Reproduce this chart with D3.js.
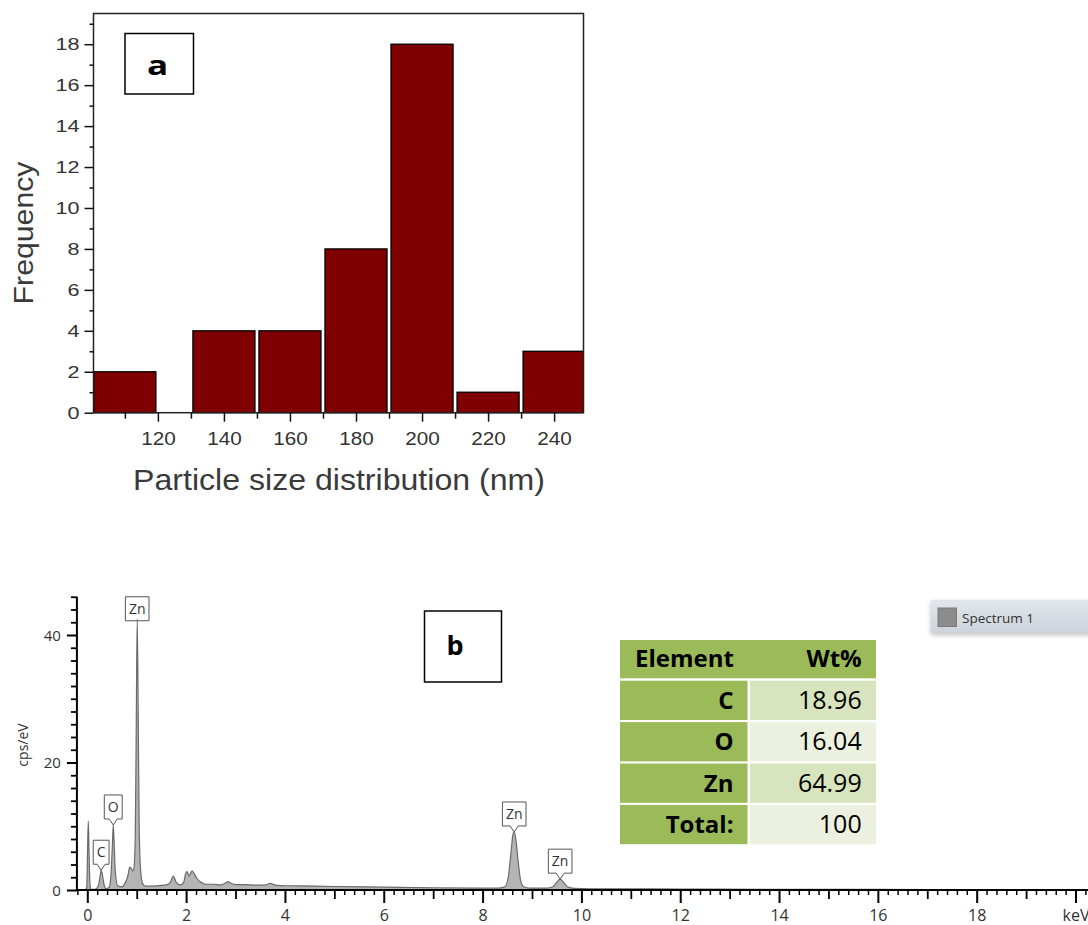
<!DOCTYPE html>
<html>
<head>
<meta charset="utf-8">
<script src="https://cdn.jsdelivr.net/npm/d3@7"></script>
<style>
  html, body { margin: 0; padding: 0; background: #fff; }
  svg { display: block; }
</style>
</head>
<body>
<svg id="chart" width="1088" height="925"></svg>
<script>
// ---------- (a) particle size histogram ----------
const sizeBinLow  = [100, 130, 150, 170, 190, 210, 230];
const sizeBinHigh = [120, 150, 170, 190, 210, 230, 250];
const frequency   = [2, 4, 4, 8, 18, 1, 3];
const sizeTicks   = [120, 140, 160, 180, 200, 220, 240];
const sizeMinorTicks = [110, 130, 150, 170, 190, 210, 230];
const freqTicks   = [0, 2, 4, 6, 8, 10, 12, 14, 16, 18];
const freqMinorTicks = [1, 3, 5, 7, 9, 11, 13, 15, 17, 19];

// ---------- (b) EDX spectrum ----------
const energyKeV = [
  -0.04, -0.01, 0.005, 0.02, 0.035, 0.055, 0.08, 0.15, 0.22, 0.26, 0.28, 0.30, 0.34, 0.38,
  0.44, 0.48, 0.51, 0.525, 0.54, 0.57, 0.62, 0.70, 0.76, 0.82, 0.86, 0.89, 0.92, 0.94,
  0.97, 0.99, 1.01, 1.03, 1.05, 1.08, 1.12, 1.18, 1.30, 1.45, 1.60, 1.68, 1.74, 1.80,
  1.88, 1.95, 1.99, 2.02, 2.06, 2.09, 2.12, 2.16, 2.22, 2.30, 2.40, 2.55, 2.70, 2.80,
  2.85, 2.90, 3.00, 3.20, 3.40, 3.60, 3.66, 3.71, 3.77, 3.90, 4.30, 5.00, 6.00, 7.00,
  8.00, 8.30, 8.45, 8.52, 8.57, 8.62, 8.64, 8.67, 8.72, 8.77, 8.83, 8.95, 9.30, 9.42,
  9.50, 9.57, 9.64, 9.72, 9.85, 10.2, 12.0, 14.0, 16.0, 18.0, 20.3
];
const countsCpsEv = [
  0, 0.5, 6, 10.8, 6, 0.8, 0.1, 0.1, 0.6, 2.2, 3.1, 2.6, 0.8, 0.2,
  0.4, 2.5, 7.5, 10.2, 8, 2.5, 0.6, 0.5, 1.0, 2.2, 3.6, 3.4, 3.0, 3.2,
  8, 25, 42.5, 28, 10, 3, 1.0, 0.6, 0.6, 0.7, 0.8, 1.2, 2.2, 1.2,
  0.8, 1.2, 2.6, 2.9, 2.2, 2.6, 3.0, 2.6, 1.8, 1.2, 0.9, 0.9, 0.8, 1.1,
  1.3, 1.1, 0.85, 0.85, 0.75, 0.75, 0.95, 1.05, 0.85, 0.7, 0.65, 0.55, 0.45, 0.35,
  0.3, 0.3, 0.5, 2.0, 5.5, 8.9, 9.1, 8.2, 4.5, 1.5, 0.5, 0.3, 0.3, 0.5,
  1.2, 1.7, 1.2, 0.5, 0.25, 0.2, 0.15, 0.1, 0.1, 0.05, 0.05
];
const energyTicks = [0, 2, 4, 6, 8, 10, 12, 14, 16, 18, 20];
const countTicks  = [0, 20, 40];
const peakElements = ["C", "O", "Zn", "Zn", "Zn"];
const peakEnergies = [0.28, 0.525, 1.01, 8.64, 9.57];

// ---------- composition table ----------
const tableElements = ["C", "O", "Zn", "Total:"];
const tableWt = [18.96, 16.04, 64.99, 100];

const svg = d3.select("#chart");
const defs = svg.append("defs");

// scale text along its baseline around its anchor
function stretchText(sel, s) {
  sel.each(function () {
    const t = d3.select(this);
    const x = +t.attr("x") || 0;
    t.attr("x", x / s).attr("transform", `scale(${s},1)`);
  });
}

// =================== histogram ===================
const H = { left: 93.5, right: 583.5, top: 13.5, bottom: 412.7 };
const xH = d3.scaleLinear().domain([100.5, 248.9]).range([H.left, H.right]);
const yH = d3.scaleLinear().domain([0, 19.5]).range([H.bottom, H.top]);
const histFont = "'Liberation Sans', Arial, sans-serif";

defs.append("clipPath").attr("id", "histClip")
  .append("rect").attr("x", H.left).attr("y", H.top - 2)
  .attr("width", H.right - H.left).attr("height", H.bottom - H.top + 4);

const bins = frequency.map((f, i) => ({ lo: sizeBinLow[i], hi: sizeBinHigh[i], f }));

svg.append("g").attr("clip-path", "url(#histClip)")
  .selectAll("rect").data(bins).join("rect")
  .attr("x", d => xH(d.lo) + 2)
  .attr("width", d => xH(d.hi) - xH(d.lo) - 4)
  .attr("y", d => yH(d.f))
  .attr("height", d => yH(0) - yH(d.f))
  .attr("fill", "#7f0000")
  .attr("stroke", "#000")
  .attr("stroke-width", 1.3);

svg.append("rect")
  .attr("x", H.left).attr("y", H.top)
  .attr("width", H.right - H.left).attr("height", H.bottom - H.top)
  .attr("fill", "none").attr("stroke", "#222").attr("stroke-width", 1.5);

function styleHistAxis(g) {
  g.select(".domain").remove();
  g.selectAll(".tick line").attr("stroke", "#111").attr("stroke-width", 1.5);
  g.selectAll(".tick text").attr("fill", "#333").attr("font-family", histFont);
}

const yAxisH = svg.append("g").attr("transform", `translate(${H.left},0)`)
  .call(d3.axisLeft(yH).tickValues(freqTicks).tickSize(9).tickFormat(d3.format("d")));
styleHistAxis(yAxisH);
yAxisH.selectAll(".tick text").attr("x", -14).attr("dy", "0.34em").attr("font-size", 16);
stretchText(yAxisH.selectAll(".tick text"), 1.35);

const yMinorH = svg.append("g").attr("transform", `translate(${H.left},0)`)
  .call(d3.axisLeft(yH).tickValues(freqMinorTicks).tickSize(4).tickFormat(""));
styleHistAxis(yMinorH);

const xAxisH = svg.append("g").attr("transform", `translate(0,${H.bottom})`)
  .call(d3.axisBottom(xH).tickValues(sizeTicks).tickSize(9).tickFormat(d3.format("d")));
styleHistAxis(xAxisH);
xAxisH.selectAll(".tick text").attr("y", 32.3).attr("dy", "0").attr("font-size", 18);
stretchText(xAxisH.selectAll(".tick text"), 1.15);

const xMinorH = svg.append("g").attr("transform", `translate(0,${H.bottom})`)
  .call(d3.axisBottom(xH).tickValues(sizeMinorTicks).tickSize(6).tickFormat(""));
styleHistAxis(xMinorH);

svg.append("g").attr("transform", "translate(33,233) rotate(-90) scale(1.12,1)")
  .append("text").attr("text-anchor", "middle")
  .attr("font-family", histFont).attr("font-size", 27).attr("fill", "#3a3a3a")
  .text("Frequency");

svg.append("g").attr("transform", "translate(339,490) scale(1.07,1)")
  .append("text").attr("text-anchor", "middle")
  .attr("font-family", histFont).attr("font-size", 30).attr("fill", "#3a3a3a")
  .text("Particle size distribution (nm)");

// panel tag (a)
svg.append("rect").attr("x", 125).attr("y", 33.5).attr("width", 68.5).attr("height", 60.5)
  .attr("fill", "#fff").attr("stroke", "#000").attr("stroke-width", 1.5);
svg.append("g").attr("transform", "translate(157.5,75) scale(1.3,1)")
  .append("text").attr("text-anchor", "middle")
  .attr("font-family", "'Open Sans', sans-serif").attr("font-weight", "bold").attr("font-size", 27)
  .attr("fill", "#000").text("a");

// =================== spectrum ===================
const specFont = "'Open Sans', 'Noto Sans', sans-serif";
const xS = d3.scaleLinear().domain([0, 20]).range([87.3, 1075.5]);
const yS = d3.scaleLinear().domain([0, 46]).range([890, 596.75]);
const spectrum = energyKeV.map((e, i) => ({ e, c: countsCpsEv[i] }));

defs.append("clipPath").attr("id", "specClip")
  .append("rect").attr("x", xS(-0.21)).attr("y", yS(46))
  .attr("width", 1088 - xS(-0.21)).attr("height", yS(0) - yS(46));

// peak markers: box with a pointer down to the peak
const labelH = 24, pointerH = 6, notch = 4;
const peaks = peakElements.map((el, i) => {
  const e = peakEnergies[i];
  const near = spectrum.reduce((a, b) => Math.abs(b.e - e) < Math.abs(a.e - e) ? b : a);
  return { el, e, c: near.c };
});
const peakG = svg.append("g");
peaks.forEach(p => {
  const g = peakG.append("g");
  const t = g.append("text").attr("font-family", specFont).attr("font-size", 14)
    .attr("fill", "#333").attr("text-anchor", "middle").text(p.el);
  const w = t.node().getComputedTextLength() + 7;
  const cx = xS(p.e), tip = yS(p.c);
  let bottom = tip - pointerH;
  let top = bottom - labelH;
  const clamped = top < yS(46);
  if (clamped) { top = yS(46); bottom = top + labelH; }
  const l = cx - w / 2, r = cx + w / 2;
  const d = clamped
    ? `M${l},${top}H${r}V${bottom}H${l}Z`
    : `M${l},${top}H${r}V${bottom}H${cx + notch}L${cx},${tip}L${cx - notch},${bottom}H${l}Z`;
  g.insert("path", "text").attr("d", d).attr("fill", "#fff")
    .attr("stroke", "#555").attr("stroke-width", 1);
  t.attr("x", cx).attr("y", top + labelH / 2 + 5);
});

const specG = svg.append("g").attr("clip-path", "url(#specClip)");
specG.append("path").datum(spectrum)
  .attr("d", d3.area().x(d => xS(d.e)).y0(yS(0)).y1(d => yS(d.c)).curve(d3.curveMonotoneX))
  .attr("fill", "#b4b4b4");
specG.append("path").datum(spectrum)
  .attr("d", d3.line().x(d => xS(d.e)).y(d => yS(d.c)).curve(d3.curveMonotoneX))
  .attr("fill", "none").attr("stroke", "#6a6a6a").attr("stroke-width", 1.2);

function styleSpecAxis(g, w) {
  g.select(".domain").remove();
  g.selectAll(".tick line").attr("stroke", "#000").attr("stroke-width", w);
  g.selectAll(".tick text").attr("fill", "#333").attr("font-family", specFont);
}

const minorE = d3.range(-1, 102).map(i => i / 5).filter(v => Math.abs(v - Math.round(v)) > 1e-6);
const oddE = d3.range(1, 20, 2);
const gxMinor = svg.append("g").attr("transform", `translate(0,${yS(0)})`)
  .call(d3.axisBottom(xS).tickValues(minorE).tickSize(5).tickFormat(""));
styleSpecAxis(gxMinor, 1.5);
const gxMid = svg.append("g").attr("transform", `translate(0,${yS(0)})`)
  .call(d3.axisBottom(xS).tickValues(oddE).tickSize(9).tickFormat(""));
styleSpecAxis(gxMid, 1.8);
const gxMajor = svg.append("g").attr("transform", `translate(0,${yS(0)})`)
  .call(d3.axisBottom(xS).tickValues(energyTicks).tickSize(13)
    .tickFormat(d => d === 20 ? "keV" : d));
styleSpecAxis(gxMajor, 2);
gxMajor.selectAll(".tick text").attr("y", 30.5).attr("dy", "0").attr("font-size", 16);

const gyMinor = svg.append("g").attr("transform", `translate(${xS(-0.21)},0)`)
  .call(d3.axisLeft(yS).tickValues(d3.range(0, 47, 2).filter(v => v % 20 !== 0)).tickSize(6).tickFormat(""));
styleSpecAxis(gyMinor, 1.8);
const gyMajor = svg.append("g").attr("transform", `translate(${xS(-0.21)},0)`)
  .call(d3.axisLeft(yS).tickValues(countTicks).tickSize(10));
styleSpecAxis(gyMajor, 2);
gyMajor.selectAll(".tick text").attr("x", -16).attr("dy", "0.36em").attr("font-size", 15);

// axis lines
svg.append("line").attr("x1", xS(-0.21)).attr("x2", 1088).attr("y1", yS(0)).attr("y2", yS(0))
  .attr("stroke", "#000").attr("stroke-width", 2);
svg.append("line").attr("x1", xS(-0.21)).attr("x2", xS(-0.21)).attr("y1", yS(0) + 1).attr("y2", yS(46))
  .attr("stroke", "#000").attr("stroke-width", 2);

svg.append("text").attr("transform", "translate(28,745) rotate(-90)")
  .attr("text-anchor", "middle").attr("font-family", specFont).attr("font-size", 14)
  .attr("fill", "#333").text("cps/eV");

// panel tag (b)
svg.append("rect").attr("x", 424.5).attr("y", 611).attr("width", 77).attr("height", 71)
  .attr("fill", "#fff").attr("stroke", "#000").attr("stroke-width", 1.5);
svg.append("text").attr("x", 455).attr("y", 655).attr("text-anchor", "middle")
  .attr("font-family", "'Open Sans', sans-serif").attr("font-weight", "bold").attr("font-size", 27)
  .attr("fill", "#000").text("b");

// legend
const grad = defs.append("linearGradient").attr("id", "legendGrad")
  .attr("x1", 0).attr("y1", 0).attr("x2", 0).attr("y2", 1);
grad.append("stop").attr("offset", "0%").attr("stop-color", "#e2e6ec");
grad.append("stop").attr("offset", "100%").attr("stop-color", "#cdd3db");
const shadow = defs.append("filter").attr("id", "legendShadow")
  .attr("x", "-10%").attr("y", "-30%").attr("width", "120%").attr("height", "180%");
shadow.append("feDropShadow").attr("dx", 0).attr("dy", 2).attr("stdDeviation", 2.5)
  .attr("flood-color", "#000").attr("flood-opacity", 0.25);
svg.append("rect").attr("x", 931).attr("y", 600).attr("width", 165).attr("height", 33)
  .attr("fill", "url(#legendGrad)").attr("filter", "url(#legendShadow)");
svg.append("rect").attr("x", 938).attr("y", 608).attr("width", 18.5).attr("height", 18.5)
  .attr("fill", "#8c8c8c").attr("stroke", "#7a7a7a").attr("stroke-width", 1);
svg.append("text").attr("x", 962).attr("y", 623).attr("font-family", specFont)
  .attr("font-size", 13.5).attr("fill", "#333").text("Spectrum 1");

// composition table
const T = { x: 620, w: 256, headTop: 640, headH: 38.3, rowTop: 680.7, rowStep: 41.4, rowH: 39.3,
            split: 747.5, valX: 750 };
const tableG = svg.append("g").attr("font-family", specFont).attr("fill", "#000");
tableG.append("rect").attr("x", T.x).attr("y", T.headTop).attr("width", T.w).attr("height", T.headH)
  .attr("fill", "#9bbb59");
tableG.append("text").attr("x", 635).attr("y", 666.7).attr("font-weight", "bold")
  .attr("font-size", 24).text("Element");
tableG.append("text").attr("x", 861.7).attr("y", 666.7).attr("text-anchor", "end")
  .attr("font-weight", "bold").attr("font-size", 24).text("Wt%");
const valueFill = ["#d7e4bd", "#ebf1de", "#d7e4bd", "#ebf1de"];
tableElements.forEach((el, i) => {
  const y0 = T.rowTop + i * T.rowStep;
  tableG.append("rect").attr("x", T.x).attr("y", y0).attr("width", T.split - T.x).attr("height", T.rowH)
    .attr("fill", "#9bbb59");
  tableG.append("rect").attr("x", T.valX).attr("y", y0).attr("width", T.x + T.w - T.valX).attr("height", T.rowH)
    .attr("fill", valueFill[i]);
  tableG.append("text").attr("x", 733.5).attr("y", y0 + 28.3).attr("text-anchor", "end")
    .attr("font-weight", "bold").attr("font-size", 24).text(el);
  tableG.append("text").attr("x", 861.7).attr("y", y0 + 28.3).attr("text-anchor", "end")
    .attr("font-size", 25).text(String(tableWt[i]));
});
</script>
</body>
</html>
